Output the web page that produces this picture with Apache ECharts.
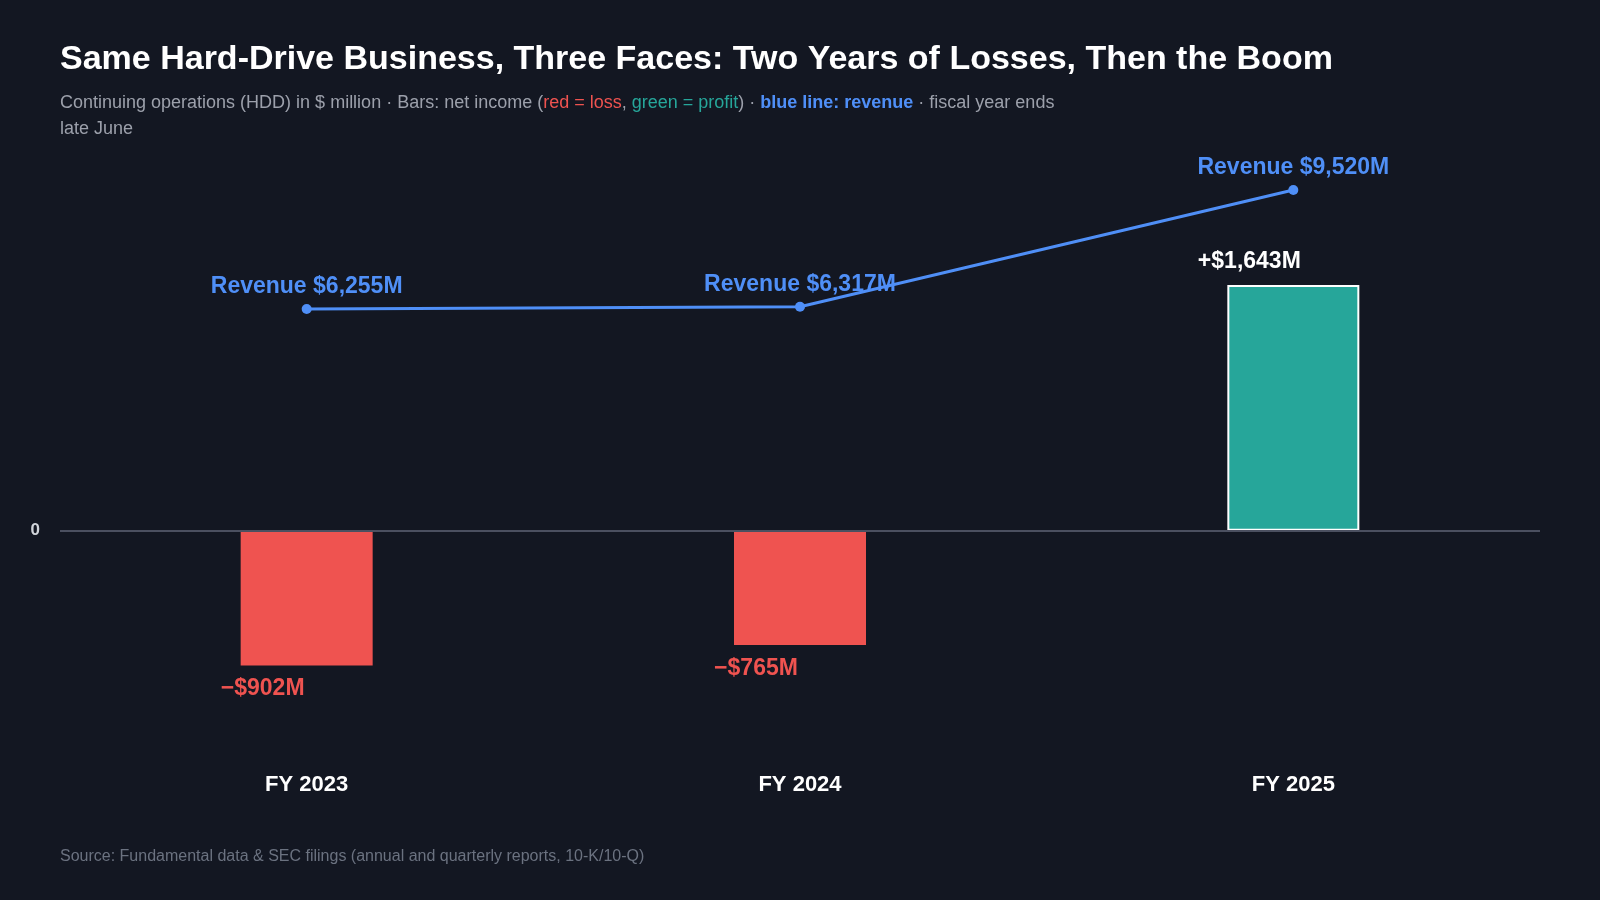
<!DOCTYPE html>
<html>
<head>
<meta charset="utf-8">
<title>Same Hard-Drive Business, Three Faces</title>
<script src="https://cdn.jsdelivr.net/npm/echarts@6/dist/echarts.min.js"></script>
<style>
    html, body { margin: 0; padding: 0; background: #131722; }
    #chart { width: 1600px; height: 900px; }
</style>
</head>
<body>
<div id="chart"></div>
<script>
// data ($ million)
var years = ['FY 2023', 'FY 2024', 'FY 2025'];
var netIncome = [-902, -765, 1643];
var revenue = [6255, 6317, 9520];

var FONT = 'Liberation Sans, Arial, Helvetica, sans-serif';
var RED = '#ef5350';
var GREEN = '#26a69a';
var BLUE = '#4f8ff7';

function money(v) {
    return '$' + Math.abs(v).toLocaleString('en-US') + 'M';
}

var barData = netIncome.map(function (v) {
    var loss = v < 0;
    return {
        value: v,
        itemStyle: {
            color: loss ? RED : GREEN,
            borderColor: loss ? RED : '#ffffff',
            borderWidth: loss ? 0 : 2
        },
        label: {
            show: true,
            position: loss ? 'bottom' : 'top',
            distance: loss ? 12 : 12,
            offset: [-44, 0],
            color: loss ? RED : '#ffffff',
            fontSize: 23,
            fontWeight: 'bold',
            fontFamily: FONT,
            formatter: (loss ? '\u2212' : '+') + money(v)
        }
    };
});

var sub = { fontSize: 18, lineHeight: 26.5, fontFamily: FONT, fontWeight: 'normal' };

var chart = echarts.init(document.getElementById('chart'));
var options = {
    backgroundColor: '#131722',
    animation: false,
    title: [{
        text: 'Same Hard-Drive Business, Three Faces: Two Years of Losses, Then the Boom',
        left: 60,
        top: 43,
        padding: 0,
        textStyle: {
            color: '#ffffff',
            fontSize: 34,
            fontWeight: 'bold',
            fontFamily: FONT
        }
    }, {
        text: '{g|Continuing operations (HDD) in $ million · Bars: net income (}{r|red = loss}{g|, }{t|green = profit}{g|) · }{b|blue line: revenue}{g| · fiscal year ends}\n{g|late June}',
        left: 60,
        top: 89.5,
        padding: 0,
        textStyle: {
            fontSize: 18,
            fontWeight: 'normal',
            fontFamily: FONT,
            rich: {
                g: Object.assign({ color: '#9ca0ab' }, sub),
                r: Object.assign({ color: RED }, sub),
                t: Object.assign({ color: GREEN }, sub),
                b: Object.assign({}, sub, { color: BLUE, fontWeight: 'bold' })
            }
        }
    }, {
        text: 'Source: Fundamental data & SEC filings (annual and quarterly reports, 10-K/10-Q)',
        left: 60,
        top: 849,
        padding: 0,
        textStyle: {
            color: '#6b7280',
            fontSize: 16,
            fontWeight: 'normal',
            fontFamily: FONT
        }
    }],
    grid: {
        top: 142,
        left: 60,
        right: 60,
        bottom: 145,
        containLabel: false
    },
    xAxis: {
        type: 'category',
        data: years,
        axisLine: { show: false },
        axisTick: { show: false },
        axisLabel: {
            color: '#ffffff',
            fontSize: 22,
            fontWeight: 'bold',
            fontFamily: FONT,
            margin: 19
        }
    },
    yAxis: [{
        type: 'value',
        min: -1500,
        max: 2600,
        interval: 500,
        splitLine: { show: false },
        axisLine: { show: false },
        axisTick: { show: false },
        axisLabel: {
            color: '#d1d5db',
            fontSize: 17,
            fontWeight: 'bold',
            fontFamily: FONT,
            margin: 20,
            formatter: function (v) { return v === 0 ? '0' : ''; }
        }
    }, {
        type: 'value',
        min: -5965,
        max: 10834,
        show: false,
        splitLine: { show: false }
    }],
    series: [{
        name: 'Net income',
        type: 'bar',
        barWidth: 132,
        data: barData,
        z: 2,
        markLine: {
            silent: true,
            symbol: 'none',
            label: { show: false },
            lineStyle: { color: '#4b5060', width: 2, type: 'solid' },
            data: [{ yAxis: 0 }]
        }
    }, {
        name: 'Revenue',
        type: 'line',
        yAxisIndex: 1,
        data: revenue,
        symbol: 'circle',
        symbolSize: 10,
        z: 3,
        lineStyle: { color: BLUE, width: 3 },
        itemStyle: { color: BLUE },
        label: {
            show: true,
            position: 'top',
            distance: 6,
            color: BLUE,
            fontSize: 23,
            fontWeight: 'bold',
            fontFamily: FONT,
            formatter: function (p) { return 'Revenue ' + money(p.value); }
        }
    }]
};
chart.setOption(options);

window.onresize = function () {
    chart.resize();
};
</script>
</body>
</html>
